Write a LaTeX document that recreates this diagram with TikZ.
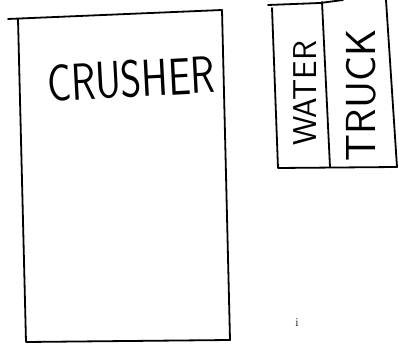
\documentclass[tikz,border=0pt]{standalone}
\usepackage{tikz}
\usetikzlibrary{calc}

\tikzset{
  sketch/.style={line width=1.8pt,line cap=round,line join=round},
  hand/.style={font=\fontsize{40}{40}\selectfont\sffamily,inner sep=0pt}
}

\begin{document}
\begin{tikzpicture}[x=1pt,y=-1pt]
  \useasboundingbox (0,0) rectangle (399,344);
  % crusher
  \draw[sketch] (8,19) -- (222,10);
  \draw[sketch] (18,19) -- (26,342) -- (230,340) -- (222,10);
  \node[hand,rotate=3,yscale=1.3,transform shape] (crusher) at (131,79) {CRUSHER};
  % water truck
  \draw[sketch] (268,5) -- (320,3) -- (343,0);
  \draw[sketch] (272,8) -- (278,168) -- (397,167) -- (386,0);
  \draw[sketch] (322,2) -- (330,167);
  \node[hand,font=\fontsize{33}{33}\selectfont\sffamily,rotate=90] (water) at (305,93) {WATER};
  \node[hand,font=\fontsize{42}{42}\selectfont\sffamily,rotate=90] (truck) at (361,95) {TRUCK};
  \node[font=\large,inner sep=0pt] (mark) at (297,323) {i};
\end{tikzpicture}
\end{document}
